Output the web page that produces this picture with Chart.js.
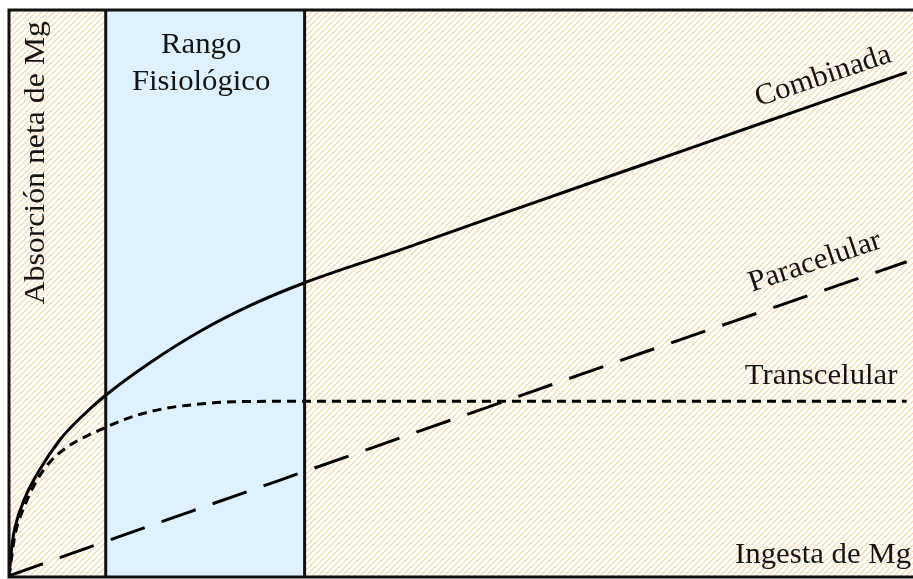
<!DOCTYPE html>
<html>
<head>
<meta charset="utf-8">
<script src="https://cdn.jsdelivr.net/npm/chart.js@4/dist/chart.umd.min.js"></script>
<style>
  html, body { margin: 0; padding: 0; background: #ffffff; }
  #wrap { width: 913px; height: 579px; }
</style>
</head>
<body>
<div id="wrap"><canvas id="c" width="913" height="579"></canvas></div>
<script>
// Ingesta de Mg (x) vs absorción neta de Mg (y), unidades relativas 0–100
const combinadaX = [0, 0.33, 0.66, 1.77, 3.43, 5.64, 7.85, 10.73, 15.6, 21.1, 26.7, 32.7, 43.3, 54.3, 65.4, 76.4, 87.5, 99.3];
const combinadaY = [0, 5.64, 8.73, 14.0, 19.0, 24.2, 28.0, 32.1, 37.8, 43.3, 47.9, 51.9, 57.7, 63.9, 70.1, 76.2, 82.4, 89.0];

const paracelularX = [0, 10, 20, 30, 40, 50, 60, 70, 80, 90, 99.3];
const paracelularY = [0.2, 5.9, 11.5, 17.1, 22.7, 28.3, 33.9, 39.5, 45.0, 50.5, 55.6];

const transcelularX = [0, 0.33, 0.66, 1.77, 3.10, 4.54, 6.42, 8.63, 10.6, 12.3, 14.5, 17.5, 21.1, 24.8, 32.2, 65.4, 99.3];
const transcelularY = [0, 3.9, 7.4, 12.7, 17.1, 20.3, 22.9, 24.9, 26.3, 27.5, 28.7, 29.8, 30.5, 30.9, 31.0, 31.0, 31.0];

// Límites del rango fisiológico de ingesta
const rangoFisiologico = [10.7, 32.7];

const toPoints = (xs, ys) => xs.map((x, i) => ({ x: x, y: ys[i] }));

const SERIF = "'Liberation Serif', 'Times New Roman', 'DejaVu Serif', serif";

// Fondo rayado diagonal
function hatchPattern(ctx) {
  const tile = document.createElement('canvas');
  tile.width = 6; tile.height = 6;
  const t = tile.getContext('2d');
  t.fillStyle = '#ffffff';
  t.fillRect(0, 0, 6, 6);
  t.strokeStyle = '#f2d5a4';
  t.lineWidth = 1.15;
  t.beginPath();
  t.moveTo(-1, 7); t.lineTo(7, -1);
  t.moveTo(-1, 1); t.lineTo(1, -1);
  t.moveTo(5, 7); t.lineTo(7, 5);
  t.stroke();
  return ctx.createPattern(tile, 'repeat');
}

// Texto con un ligero ensanche horizontal
function drawText(ctx, text, x, y, angleDeg, align, stretch) {
  ctx.save();
  ctx.translate(x, y);
  if (angleDeg) ctx.rotate(angleDeg * Math.PI / 180);
  ctx.scale(stretch || 1.025, 1);
  ctx.textAlign = align || 'left';
  ctx.fillText(text, 0, 0);
  ctx.restore();
}

const fondoPlugin = {
  id: 'fondo',
  beforeDatasetsDraw(chart) {
    const { ctx, chartArea: a, scales } = chart;
    ctx.save();
    ctx.fillStyle = hatchPattern(ctx);
    ctx.fillRect(a.left, a.top, a.right - a.left, a.bottom - a.top);
    const x0 = scales.x.getPixelForValue(rangoFisiologico[0]);
    const x1 = scales.x.getPixelForValue(rangoFisiologico[1]);
    ctx.fillStyle = '#dff0fe';
    ctx.fillRect(x0, a.top, x1 - x0, a.bottom - a.top);
    ctx.restore();
  },
  afterDatasetsDraw(chart) {
    const { ctx, chartArea: a, scales } = chart;
    const px = v => scales.x.getPixelForValue(v);
    const py = v => scales.y.getPixelForValue(v);
    ctx.save();
    // Marco y líneas del rango
    ctx.strokeStyle = '#111111';
    ctx.lineWidth = 3;
    ctx.beginPath();
    ctx.moveTo(a.right, a.top); ctx.lineTo(a.left, a.top);
    ctx.lineTo(a.left, a.bottom); ctx.lineTo(a.right, a.bottom);
    rangoFisiologico.forEach(v => {
      ctx.moveTo(px(v), a.top); ctx.lineTo(px(v), a.bottom);
    });
    ctx.stroke();

    ctx.fillStyle = '#151515';
    ctx.font = '30px ' + SERIF;
    ctx.textBaseline = 'alphabetic';

    // Rótulo del rango
    const xc = px((rangoFisiologico[0] + rangoFisiologico[1]) / 2) - 4;
    drawText(ctx, 'Rango', xc, a.top + 43, 0, 'center');
    drawText(ctx, 'Fisiológico', xc, a.top + 80, 0, 'center');

    // Rótulos de las curvas
    drawText(ctx, 'Combinada', px(82.9), py(83.0), -18.5, 'left');
    drawText(ctx, 'Paracelular', px(82.2), py(50.3), -18.7, 'left');
    drawText(ctx, 'Transcelular', px(81.4), py(34.0), 0, 'left');

    // Títulos de ejes
    drawText(ctx, 'Ingesta de Mg', a.right - 2, a.bottom - 14, 0, 'right');
    drawText(ctx, 'Absorción neta de Mg', a.left + 35, a.top + 11, -90, 'right', 1.06);

    ctx.restore();
  }
};

const lineBase = {
  borderColor: '#000000',
  borderWidth: 3,
  pointRadius: 0,
  fill: false,
  cubicInterpolationMode: 'monotone',
  borderCapStyle: 'butt'
};

new Chart(document.getElementById('c'), {
  type: 'line',
  data: {
    datasets: [
      Object.assign({ label: 'Combinada', data: toPoints(combinadaX, combinadaY) }, lineBase),
      Object.assign({ label: 'Paracelular', data: toPoints(paracelularX, paracelularY), borderDash: [36, 18] }, lineBase),
      Object.assign({ label: 'Transcelular', data: toPoints(transcelularX, transcelularY), borderDash: [9, 6] }, lineBase)
    ]
  },
  options: {
    responsive: false,
    animation: false,
    devicePixelRatio: 1,
    layout: { padding: { left: 9, right: 0, top: 10, bottom: 2 } },
    plugins: { legend: { display: false }, tooltip: { enabled: false } },
    scales: {
      x: { type: 'linear', min: 0, max: 100, display: false },
      y: { type: 'linear', min: 0, max: 100, display: false }
    }
  },
  plugins: [fondoPlugin]
});
</script>
</body>
</html>
